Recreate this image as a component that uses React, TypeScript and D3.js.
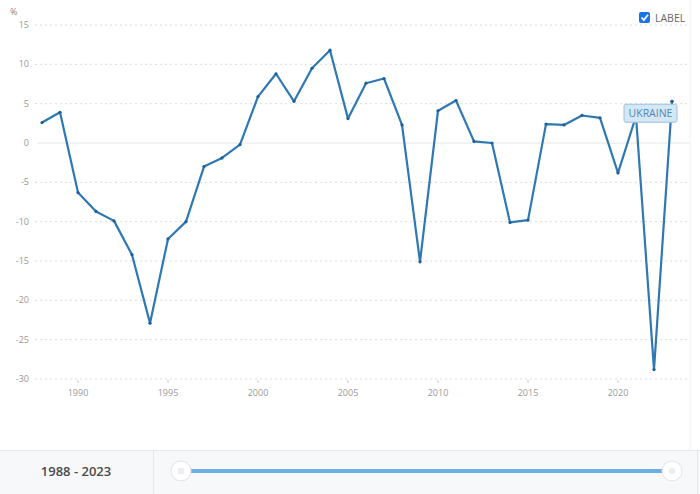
import React from "react";
import * as d3 from "d3";

const years: number[] = [1988,1989,1990,1991,1992,1993,1994,1995,1996,1997,1998,1999,2000,2001,2002,2003,2004,2005,2006,2007,2008,2009,2010,2011,2012,2013,2014,2015,2016,2017,2018,2019,2020,2021,2022,2023];
const growth: number[] = [2.6,3.9,-6.3,-8.7,-9.9,-14.2,-22.9,-12.2,-10.0,-3.0,-1.9,-0.2,5.9,8.8,5.3,9.5,11.8,3.1,7.6,8.2,2.3,-15.1,4.1,5.4,0.2,0.0,-10.1,-9.8,2.4,2.3,3.5,3.2,-3.8,3.4,-28.8,5.3];
const yTicks: number[] = [15,10,5,0,-5,-10,-15,-20,-25,-30];
const xTicks: number[] = [1990,1995,2000,2005,2010,2015,2020];
const seriesLabel = "UKRAINE";
const rangeLabel = "1988 - 2023";

const W = 700, H = 494;
const font = "'Open Sans', 'Noto Sans', sans-serif";

export default function App() {
  const x = d3.scaleLinear().domain([1988, 2023]).range([42, 672]);
  const y = d3.scaleLinear().domain([-30, 15]).range([379, 25]);
  const line = d3.line<number>().x((_, i) => x(years[i])).y((d) => y(d));
  const lastI = years.length - 1;
  const lblX = x(2021) - 12;
  const lblY = y(3.4) - 12;

  return (
    <svg width={W} height={H} style={{ position: "absolute", left: 0, top: 0, background: "#fff" }} fontFamily={font}>
      <rect x={0} y={0} width={W} height={H} fill="#fff" />
      {yTicks.map((t) => (
        <g key={t}>
          <line x1={t === 0 ? 37 : 35} x2={690} y1={y(t)} y2={y(t)} stroke={t === 0 ? "#e6e6e6" : "#dcdcdc"} strokeWidth={1} strokeDasharray={t === 0 ? undefined : "2,3"} />
          <text x={29} y={y(t) + 3} textAnchor="end" fontSize={9} fill="#9a9a9a">{t}</text>
        </g>
      ))}
      <text x={10} y={15} fontSize={9} fill="#8a8a8a">%</text>
      {xTicks.map((t) => (
        <g key={t}>
          <line x1={x(t)} x2={x(t)} y1={380} y2={383} stroke="#c8c8c8" />
          <text x={x(t)} y={396} textAnchor="middle" fontSize={9} fill="#9a9a9a">{t}</text>
        </g>
      ))}
      <line x1={690} x2={690} y1={0} y2={450} stroke="#f0f0f0" />
      <path d={line(growth) || ""} fill="none" stroke="#2e78b3" strokeWidth={2.2} strokeLinejoin="round" />
      {growth.map((v, i) => (
        <circle key={i} cx={x(years[i])} cy={y(v)} r={1.6} fill="#1f5f96" />
      ))}
      <g>
        <rect x={lblX} y={lblY} width={53} height={18} rx={2} fill="#d5e6f4" stroke="#9cc2e2" strokeWidth={1} />
        <text x={lblX + 26.5} y={lblY + 12.5} textAnchor="middle" fontSize={10.5} fill="#4f86b5">{seriesLabel}</text>
      </g>
      <circle cx={x(years[lastI])} cy={y(growth[lastI])} r={1.6} fill="#1f5f96" />
      <rect x={639} y={12} width={11} height={11} rx={2} fill="#1a73e8" />
      <path d="M641.5 17.5 L643.8 20 L648 14.8" fill="none" stroke="#fff" strokeWidth={1.8} />
      <text x={655} y={21.5} fontSize={10.5} fill="#666">LABEL</text>
      <rect x={0} y={450} width={W} height={44} fill="#f7f8fa" />
      <line x1={0} x2={W} y1={450.5} y2={450.5} stroke="#e8e9ec" />
      <line x1={153.5} x2={153.5} y1={450} y2={494} stroke="#e6e7ea" />
      <line x1={697.5} x2={697.5} y1={450} y2={494} stroke="#e6e7ea" />
      <text x={76} y={476} textAnchor="middle" fontSize={13} fontWeight={600} fill="#4a4a4a">{rangeLabel}</text>
      <line x1={186} x2={667} y1={471} y2={471} stroke="#6bb0e2" strokeWidth={4} />
      {[181, 672].map((cx) => (
        <g key={cx}>
          <circle cx={cx} cy={471} r={10} fill="#fff" stroke="#e2e4e8" strokeWidth={1} />
          {[-2, 0, 2].map((dx) => (
            <line key={dx} x1={cx + dx} x2={cx + dx} y1={468} y2={474} stroke="#d2d4d8" strokeWidth={0.8} />
          ))}
        </g>
      ))}
    </svg>
  );
}
